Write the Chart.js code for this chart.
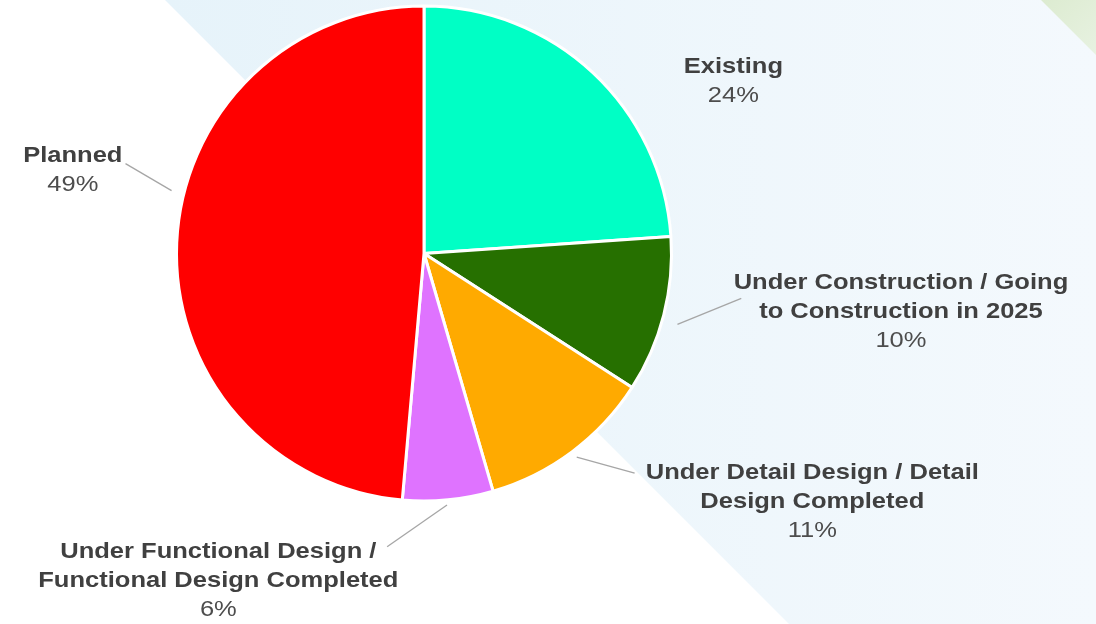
<!DOCTYPE html>
<html>
<head>
<meta charset="utf-8">
<script src="https://cdn.jsdelivr.net/npm/chart.js@4.4.1/dist/chart.umd.min.js"></script>
<style>
    body { margin: 0; background: #ffffff; }
    #contenitore { width: 1096px; height: 624px; position: relative; }
</style>
</head>
<body>
<div id="contenitore"><canvas id="grafico-stato"></canvas></div>
<script>
// dati del grafico (quote stimate dagli angoli delle fette, le etichette mostrano il valore arrotondato)
var categorie = [
    ['Existing'],
    ['Under Construction / Going', 'to Construction in 2025'],
    ['Under Detail Design / Detail', 'Design Completed'],
    ['Under Functional Design /', 'Functional Design Completed'],
    ['Planned']
];
var quote = [23.9, 10.2, 11.4, 5.9, 48.6];
var colori = ['#00ffc5', '#267000', '#ffaa00', '#df73ff', '#ff0000'];

// posizione etichette e linee guida, in frazioni del raggio rispetto al centro
var posTesto = [[1.25, -0.754], [1.927, 0.117], [1.569, 0.887], [-0.831, 1.206], [-1.419, -0.395]];
var lineeGuida = [null, [1.024, 0.286, 1.282, 0.181], [0.617, 0.823, 0.851, 0.887],
    [0.093, 1.016, -0.149, 1.185], [-1.02, -0.254, -1.206, -0.363]];

var sfondo = {   // fascia azzurra diagonale e angolo verde
    id: 'sfondo',
    beforeDraw: function (chart) {
        var ctx = chart.ctx;
        var w = chart.width, h = chart.height;
        ctx.save();
        ctx.fillStyle = '#ffffff';
        ctx.fillRect(0, 0, w, h);
        var grad = ctx.createLinearGradient(165, 0, w, 0);
        grad.addColorStop(0, '#e6f3fa');
        grad.addColorStop(1, '#f4f9fd');
        ctx.fillStyle = grad;
        ctx.beginPath();
        ctx.moveTo(165, 0);
        ctx.lineTo(w, 0);
        ctx.lineTo(w, h);
        ctx.lineTo(165 + h, h);
        ctx.closePath();
        ctx.fill();
        var grad2 = ctx.createLinearGradient(1040, 0, w, 60);
        grad2.addColorStop(0, '#dcebd0');
        grad2.addColorStop(1, '#e8f2e2');
        ctx.fillStyle = grad2;
        ctx.beginPath();
        ctx.moveTo(1041, 0);
        ctx.lineTo(w, 0);
        ctx.lineTo(w, w - 1041);
        ctx.closePath();
        ctx.fill();
        ctx.restore();
    }
};

function scriviTesto(ctx, testo, x, y) {    // testo allargato in orizzontale come nell'originale
    ctx.save();
    ctx.translate(x, y);
    ctx.scale(1.16, 1);
    ctx.fillText(testo, 0, 0);
    ctx.restore();
}

var etichette = {
    id: 'etichette',
    afterDatasetsDraw: function (chart) {
        var ctx = chart.ctx;
        var arco = chart.getDatasetMeta(0).data[0];
        var cx = arco.x, cy = arco.y, r = arco.outerRadius;
        var totale = quote.reduce(function (a, b) { return a + b; }, 0);
        ctx.save();
        ctx.textAlign = 'center';
        ctx.textBaseline = 'middle';
        for (var i = 0; i < quote.length; i++) {
            var lg = lineeGuida[i];
            if (lg) {
                ctx.strokeStyle = '#a6a6a6';
                ctx.lineWidth = 1.3;
                ctx.beginPath();
                ctx.moveTo(cx + lg[0] * r, cy + lg[1] * r);
                ctx.lineTo(cx + lg[2] * r, cy + lg[3] * r);
                ctx.stroke();
            }
            var x = cx + posTesto[i][0] * r;
            var y = cy + posTesto[i][1] * r;
            ctx.fillStyle = '#404040';
            ctx.font = 'bold 22px "Liberation Sans", Arial, sans-serif';
            for (var j = 0; j < categorie[i].length; j++) {
                scriviTesto(ctx, categorie[i][j], x, y + j * 29);
            }
            ctx.fillStyle = '#4d4d4d';
            ctx.font = '22px "Liberation Sans", Arial, sans-serif';
            scriviTesto(ctx, Math.round(quote[i] / totale * 100) + '%', x, y + categorie[i].length * 29);
        }
        ctx.restore();
    }
};

var grafico = new Chart(document.getElementById('grafico-stato'), {
    type: 'pie',
    data: {
        labels: categorie.map(function (c) { return c.join(' '); }),
        datasets: [{
            data: quote,
            backgroundColor: colori,
            borderColor: '#ffffff',
            borderWidth: 3
        }]
    },
    options: {
        responsive: true,
        maintainAspectRatio: false,
        animation: false,
        layout: { padding: { left: 175, top: 4, right: 423, bottom: 121 } },
        plugins: {
            legend: { display: false },
            tooltip: { enabled: false }
        }
    },
    plugins: [sfondo, etichette]
});
</script>
</body>
</html>
